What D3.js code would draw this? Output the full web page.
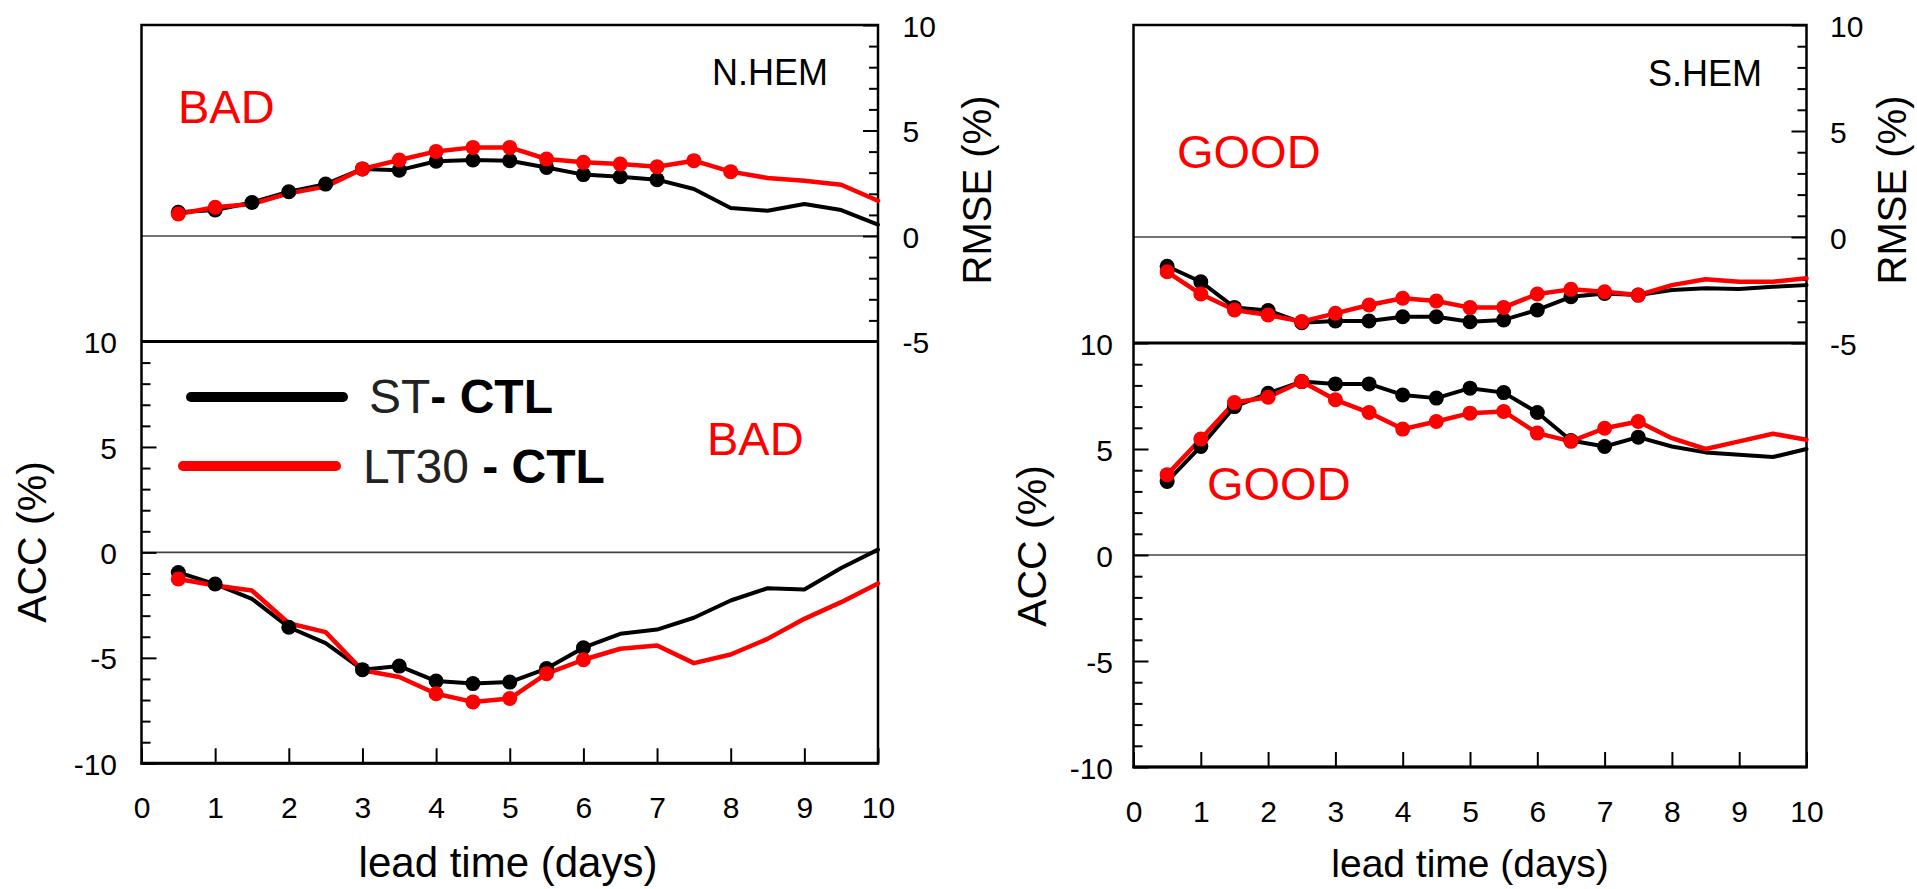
<!DOCTYPE html>
<html><head><meta charset="utf-8">
<script src="https://cdn.jsdelivr.net/npm/d3@7"></script>
<style>
html,body{margin:0;padding:0;background:#fff;}
svg{display:block;font-family:"Liberation Sans",Arial,Helvetica,sans-serif;}
</style></head><body>
<svg id="chart" width="1917" height="889"></svg>
<script>
// ---------- data ----------
const leadDays = [0.5,1,1.5,2,2.5,3,3.5,4,4.5,5,5.5,6,6.5,7,7.5,8,8.5,9,9.5,10];
const dayTicks = [0,1,2,3,4,5,6,7,8,9,10];
const rmseTicks = [10,5,0,-5];
const accTicks = [10,5,0,-5,-10];
const seriesLabels = ["ST", "LT30"];
const regionNames = ["N.HEM", "S.HEM"];

const nhemRmseST   = [1.12,1.23,1.59,2.10,2.46,3.18,3.12,3.54,3.60,3.57,3.25,2.91,2.81,2.67,2.23,1.33,1.20,1.52,1.23,0.54];
const nhemRmseLT30 = [1.04,1.36,1.52,2.02,2.34,3.18,3.60,4.01,4.20,4.20,3.65,3.49,3.41,3.28,3.57,3.05,2.75,2.62,2.43,1.67];
const nhemAccST    = [-0.95,-1.50,-2.20,-3.55,-4.30,-5.56,-5.39,-6.10,-6.22,-6.15,-5.51,-4.52,-3.86,-3.66,-3.10,-2.28,-1.70,-1.76,-0.74,0.13];
const nhemAccLT30  = [-1.26,-1.57,-1.81,-3.36,-3.78,-5.59,-5.91,-6.70,-7.09,-6.93,-5.75,-5.09,-4.57,-4.41,-5.25,-4.84,-4.10,-3.15,-2.36,-1.47];

const shemRmseST   = [-1.38,-2.11,-3.32,-3.47,-4.04,-3.96,-3.96,-3.76,-3.76,-4.00,-3.91,-3.44,-2.82,-2.66,-2.74,-2.50,-2.42,-2.45,-2.35,-2.27];
const shemRmseLT30 = [-1.64,-2.69,-3.44,-3.68,-3.99,-3.60,-3.21,-2.89,-3.02,-3.33,-3.32,-2.69,-2.47,-2.58,-2.74,-2.27,-1.99,-2.11,-2.11,-1.95];
const shemAccST    = [3.47,5.12,7.00,7.63,8.18,8.07,8.07,7.55,7.40,7.87,7.66,6.72,5.40,5.12,5.56,5.12,4.84,4.73,4.62,5.00];
const shemAccLT30  = [3.79,5.47,7.19,7.44,8.18,7.32,6.72,5.94,6.30,6.69,6.77,5.75,5.36,5.98,6.30,5.51,5.00,5.36,5.72,5.44];

// lead days that carry a marker (significant points)
const nhemRmseSTDots   = [0.5,1,1.5,2,2.5,3,3.5,4,4.5,5,5.5,6,6.5,7];
const nhemRmseLT30Dots = [0.5,1,3,3.5,4,4.5,5,5.5,6,6.5,7,7.5,8];
const nhemAccSTDots    = [0.5,1,2,3,3.5,4,4.5,5,5.5,6];
const nhemAccLT30Dots  = [0.5,4,4.5,5,5.5,6];
const shemRmseSTDots   = [0.5,1,1.5,2,2.5,3,3.5,4,4.5,5,5.5,6,6.5,7,7.5];
const shemRmseLT30Dots = [0.5,1,1.5,2,2.5,3,3.5,4,4.5,5,5.5,6,6.5,7,7.5];
const shemAccSTDots    = [0.5,1,1.5,2,2.5,3,3.5,4,4.5,5,5.5,6,6.5,7,7.5];
const shemAccLT30Dots  = [0.5,1,1.5,2,2.5,3,3.5,4,4.5,5,5.5,6,6.5,7,7.5];

// ---------- layout ----------
const RED = "#ff0000";
const seriesColors = ["#000000", RED];
const seriesWidths = [4, 4.5];
const FONT = '"Liberation Sans",Arial,Helvetica,sans-serif';

const panels = [
  { region: regionNames[0], x0: 141.5, x1: 878, top: 25, mid: 341.5, bottom: 763.3,
    rmse: [nhemRmseST, nhemRmseLT30], rmseDots: [nhemRmseSTDots, nhemRmseLT30Dots],
    acc: [nhemAccST, nhemAccLT30], accDots: [nhemAccSTDots, nhemAccLT30Dots],
    notes: [{t: "BAD", x: 178, y: 123}, {t: "BAD", x: 707, y: 455}],
    regionX: 828, regionY: 85,
    accLabelX: 46, accLabelY: 542, rmseLabelX: 991, rmseLabelY: 190,
    xTitleX: 508, xTitleSize: 42, leftPad: 24.5, rightPad: 24.5, legend: true },
  { region: regionNames[1], x0: 1133.5, x1: 1806.5, top: 25, mid: 343, bottom: 767,
    rmse: [shemRmseST, shemRmseLT30], rmseDots: [shemRmseSTDots, shemRmseLT30Dots],
    acc: [shemAccST, shemAccLT30], accDots: [shemAccSTDots, shemAccLT30Dots],
    notes: [{t: "GOOD", x: 1177, y: 168}, {t: "GOOD", x: 1207, y: 500}],
    regionX: 1762, regionY: 86,
    accLabelX: 1046, accLabelY: 546, rmseLabelX: 1906, rmseLabelY: 190,
    xTitleX: 1470, xTitleSize: 39, leftPad: 20.5, rightPad: 23.5, legend: false }
];

const svg = d3.select("#chart");

function styleAxis(g, size) {
  g.select(".domain").remove();
  g.selectAll(".tick line").attr("stroke", "#000").attr("stroke-width", 2);
  g.selectAll(".tick text").attr("fill", "#000").style("font-size", size + "px").style("font-family", FONT);
  g.attr("font-family", null).attr("font-size", null);
}

panels.forEach(p => {
  const x = d3.scaleLinear().domain([0, 10]).range([p.x0, p.x1]);
  const yR = d3.scaleLinear().domain([-5, 10]).range([p.mid, p.top]);
  const yA = d3.scaleLinear().domain([-10, 10]).range([p.bottom, p.mid]);
  const g = svg.append("g");

  // zero lines
  g.append("line").attr("x1", p.x0).attr("x2", p.x1).attr("y1", yR(0)).attr("y2", yR(0))
    .attr("stroke", "#444").attr("stroke-width", 1.6);
  g.append("line").attr("x1", p.x0).attr("x2", p.x1).attr("y1", yA(0)).attr("y2", yA(0))
    .attr("stroke", "#444").attr("stroke-width", 1.6);

  // minor ticks
  const minorAcc = d3.range(-10, 11).filter(v => !accTicks.includes(v));
  const minorRmse = d3.range(-5, 11).filter(v => !rmseTicks.includes(v));
  g.append("g").attr("transform", `translate(${p.x0},0)`)
    .call(d3.axisLeft(yA).tickValues(minorAcc).tickSizeInner(-9).tickSizeOuter(0).tickFormat(""))
    .call(a => styleAxis(a, 30));
  g.append("g").attr("transform", `translate(${p.x1},0)`)
    .call(d3.axisRight(yR).tickValues(minorRmse).tickSizeInner(-9).tickSizeOuter(0).tickFormat(""))
    .call(a => styleAxis(a, 30));

  // major ticks + labels
  const accAxis = g.append("g").attr("transform", `translate(${p.x0},0)`)
    .call(d3.axisLeft(yA).tickValues(accTicks).tickSizeInner(-15).tickSizeOuter(0)
      .tickPadding(p.leftPad).tickFormat(d => String(d)))
    .call(a => styleAxis(a, 30));
  accAxis.selectAll(".tick text").attr("dy", "0.37em");
  const rmseAxis = g.append("g").attr("transform", `translate(${p.x1},0)`)
    .call(d3.axisRight(yR).tickValues(rmseTicks).tickSizeInner(-15).tickSizeOuter(0)
      .tickPadding(p.rightPad).tickFormat(d => String(d)))
    .call(a => styleAxis(a, 30));
  rmseAxis.selectAll(".tick text").attr("dy", "0.38em");
  g.append("g").attr("transform", `translate(0,${p.bottom})`)
    .call(d3.axisBottom(x).tickValues(dayTicks).tickSizeInner(-15).tickSizeOuter(0)
      .tickPadding(33.5).tickFormat(d => String(d)))
    .call(a => styleAxis(a, 30));

  // frame
  g.append("rect").attr("x", p.x0).attr("y", p.top).attr("width", p.x1 - p.x0).attr("height", p.bottom - p.top)
    .attr("fill", "none").attr("stroke", "#000").attr("stroke-width", 2.5);
  g.append("line").attr("x1", p.x0).attr("x2", p.x1).attr("y1", p.mid).attr("y2", p.mid)
    .attr("stroke", "#000").attr("stroke-width", 3);
  g.append("line").attr("x1", p.x0 - 1).attr("x2", p.x1 + 1).attr("y1", p.bottom).attr("y2", p.bottom)
    .attr("stroke", "#000").attr("stroke-width", 3);

  // data
  function drawSection(yScale, seriesArr, dotsArr) {
    const line = d3.line().x((d, i) => x(leadDays[i])).y(d => yScale(d));
    seriesArr.forEach((vals, s) => {
      g.append("path").datum(vals).attr("d", line).attr("fill", "none")
        .attr("stroke", seriesColors[s]).attr("stroke-width", seriesWidths[s])
        .attr("stroke-linejoin", "round").attr("stroke-linecap", "round");
    });
    dotsArr.forEach((days, s) => {
      g.append("g").selectAll("circle").data(days).join("circle")
        .attr("cx", d => x(d)).attr("cy", d => yScale(seriesArr[s][leadDays.indexOf(d)]))
        .attr("r", 7.5).attr("fill", seriesColors[s]);
    });
  }
  drawSection(yR, p.rmse, p.rmseDots);
  drawSection(yA, p.acc, p.accDots);

  // texts
  g.append("text").attr("x", p.regionX).attr("y", p.regionY).attr("text-anchor", "end")
    .style("font-size", "36px").attr("fill", "#000").text(p.region);
  p.notes.forEach(n => {
    g.append("text").attr("x", n.x).attr("y", n.y).style("font-size", "47px").attr("fill", RED).text(n.t);
  });
  g.append("text").attr("transform", `translate(${p.accLabelX},${p.accLabelY}) rotate(-90)`)
    .attr("text-anchor", "middle").style("font-size", "41px").attr("fill", "#000").text("ACC (%)");
  g.append("text").attr("transform", `translate(${p.rmseLabelX},${p.rmseLabelY}) rotate(-90)`)
    .attr("text-anchor", "middle").style("font-size", "40px").attr("fill", "#000").text("RMSE (%)");
  g.append("text").attr("x", p.xTitleX).attr("y", 877).attr("text-anchor", "middle")
    .style("font-size", p.xTitleSize + "px").attr("fill", "#000").text("lead time (days)");

  // legend
  if (p.legend) {
    const lg = g.append("g");
    const legendRows = [
      {x1: 191, x2: 343, y: 397, tx: 369, ty: 413, label: seriesLabels[0], tail: "- CTL"},
      {x1: 183, x2: 336, y: 466, tx: 363, ty: 483, label: seriesLabels[1], tail: " - CTL"}
    ];
    legendRows.forEach((r, s) => {
      lg.append("line").attr("x1", r.x1).attr("x2", r.x2).attr("y1", r.y).attr("y2", r.y)
        .attr("stroke", seriesColors[s]).attr("stroke-width", 10).attr("stroke-linecap", "round");
      const t = lg.append("text").attr("x", r.tx).attr("y", r.ty).style("font-size", "48px")
        .style("white-space", "pre");
      t.append("tspan").attr("fill", "#222").text(r.label);
      t.append("tspan").attr("fill", "#000").attr("font-weight", "bold").text(r.tail);
    });
  }
});
</script>
</body></html>
